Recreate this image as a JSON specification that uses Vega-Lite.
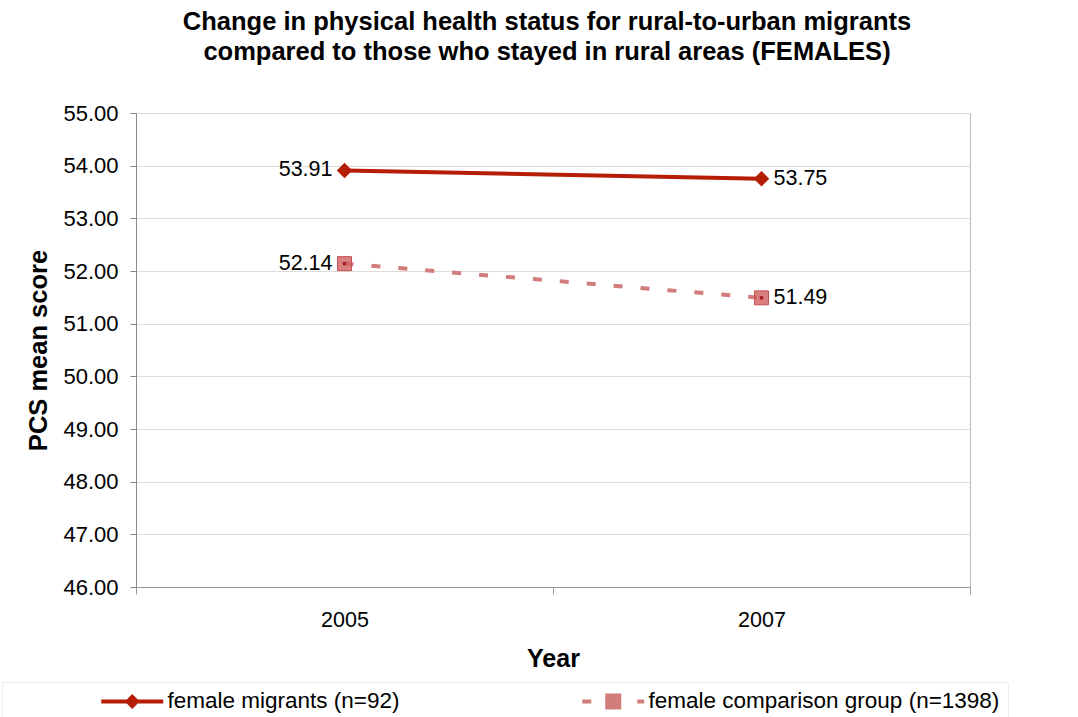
{
  "$schema": "https://vega.github.io/schema/vega-lite/v6.json",
  "autosize": {"type": "none"},
  "width": 834,
  "height": 474,
  "padding": {"left": 136, "top": 113, "right": 108, "bottom": 130},
  "config": {
    "font": "Liberation Sans",
    "view": {"stroke": "#b8b8b8", "strokeWidth": 1}
  },
  "title": {
    "text": ["Change in physical health status for rural-to-urban migrants", "compared to those who stayed in rural areas (FEMALES)"],
    "font": "Liberation Sans",
    "fontSize": 25.5,
    "fontWeight": "bold",
    "color": "#000000",
    "lineHeight": 30,
    "anchor": "middle",
    "dx": -6,
    "offset": 37
  },
  "data": {
    "values": [
      {"year": 2005, "series": "female migrants (n=92)", "pcs": 53.91},
      {"year": 2007, "series": "female migrants (n=92)", "pcs": 53.75},
      {"year": 2005, "series": "female comparison group (n=1398)", "pcs": 52.14},
      {"year": 2007, "series": "female comparison group (n=1398)", "pcs": 51.49}
    ]
  },
  "encoding": {
    "x": {
      "field": "year",
      "type": "quantitative",
      "scale": {"domain": [2004, 2008], "nice": false, "zero": false},
      "axis": {
        "values": [2004, 2005, 2006, 2007, 2008],
        "format": "d",
        "labelExpr": "datum.value == 2005 || datum.value == 2007 ? datum.label : ''",
        "grid": false,
        "domainColor": "#999999",
        "tickColor": "#999999",
        "tickOpacity": {"condition": {"test": "datum.value == 2005 || datum.value == 2007", "value": 0}, "value": 1},
        "tickSize": 7,
        "labelFontSize": 21.5,
        "labelColor": "#000000",
        "labelPadding": 15,
        "title": "Year",
        "titleFontSize": 25,
        "titleFontWeight": "bold",
        "titleColor": "#000000",
        "titlePadding": 16
      }
    },
    "y": {
      "field": "pcs",
      "type": "quantitative",
      "scale": {"domain": [46, 55], "nice": false, "zero": false},
      "axis": {
        "values": [46, 47, 48, 49, 50, 51, 52, 53, 54, 55],
        "format": ".2f",
        "grid": true,
        "gridColor": "#dcdcdc",
        "domainColor": "#888888",
        "tickColor": "#888888",
        "tickSize": 6,
        "labelFontSize": 22,
        "labelColor": "#000000",
        "labelPadding": 12,
        "title": "PCS mean score",
        "titleFontSize": 25.5,
        "titleFontWeight": "bold",
        "titleColor": "#000000",
        "titlePadding": 11
      }
    }
  },
  "layer": [
    {
      "transform": [{"filter": "datum.series == 'female comparison group (n=1398)'"}],
      "mark": {"type": "line", "color": "#d37c7c", "strokeWidth": 4, "strokeDash": [9, 18]}
    },
    {
      "transform": [{"filter": "datum.series == 'female migrants (n=92)'"}],
      "mark": {"type": "line", "color": "#b61d06", "strokeWidth": 4}
    },
    {
      "transform": [{"filter": "datum.series == 'female migrants (n=92)'"}],
      "mark": {"type": "point", "shape": "diamond", "filled": true, "size": 240, "color": "#b61d06", "opacity": 1}
    },
    {
      "transform": [{"filter": "datum.series == 'female comparison group (n=1398)'"}],
      "mark": {"type": "point", "shape": "square", "filled": true, "size": 196, "fill": "#d05f5f", "fillOpacity": 0.8, "stroke": "#c65050", "strokeWidth": 1, "opacity": 1}
    },
    {
      "transform": [{"filter": "datum.series == 'female comparison group (n=1398)'"}],
      "mark": {"type": "point", "shape": "square", "filled": true, "size": 12, "color": "#a82020", "opacity": 1}
    },
    {
      "transform": [{"filter": "datum.year == 2005"}],
      "mark": {"type": "text", "align": "right", "baseline": "middle", "dx": -12, "fontSize": 21.5, "color": "#000000"},
      "encoding": {"text": {"field": "pcs", "type": "quantitative", "format": ".2f"}}
    },
    {
      "transform": [{"filter": "datum.year == 2007"}],
      "mark": {"type": "text", "align": "left", "baseline": "middle", "dx": 12, "fontSize": 21.5, "color": "#000000"},
      "encoding": {"text": {"field": "pcs", "type": "quantitative", "format": ".2f"}}
    },
    {
      "mark": {"type": "point", "filled": true, "opacity": 0},
      "encoding": {
        "color": {
          "field": "series",
          "type": "nominal",
          "scale": {"domain": ["female migrants (n=92)", "female comparison group (n=1398)"], "range": ["#b61d06", "#d37c7c"]},
          "legend": {
            "orient": "none",
            "legendX": -134,
            "legendY": 569,
            "direction": "horizontal",
            "title": null,
            "padding": 8,
            "strokeColor": "#ececec",
            "symbolSize": 400,
            "symbolOffset": 90,
            "symbolOpacity": 1,
            "symbolStrokeWidth": 0,
            "columnPadding": 91,
            "labelFontSize": 22.5,
            "labelColor": "#000000",
            "labelOffset": 45,
            "labelLimit": 500,
            "encode": {
              "symbols": {"update": {"opacity": {"value": 1}, "fillOpacity": {"value": 1}}}
            }
          }
        },
        "shape": {
          "field": "series",
          "type": "nominal",
          "scale": {
            "domain": ["female migrants (n=92)", "female comparison group (n=1398)"],
            "range": [
              "M-1,-0.2L5.2,-0.2L5.2,0.2L-1,0.2Z M2.1,-0.75L2.85,0L2.1,0.75L1.35,0Z",
              "M-1,-0.2L-0.1,-0.2L-0.1,0.2L-1,0.2Z M1.3,-0.8L2.9,-0.8L2.9,0.8L1.3,0.8Z M4.5,-0.2L5.2,-0.2L5.2,0.2L4.5,0.2Z"
            ]
          }
        }
      }
    }
  ]
}
